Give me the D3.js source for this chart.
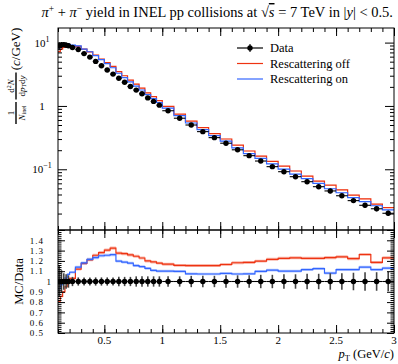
<!DOCTYPE html>
<html><head><meta charset="utf-8">
<script src="https://cdn.jsdelivr.net/npm/d3@7"></script>
<style>body{margin:0;background:#fff}svg{display:block}text{font-family:"Liberation Serif","DejaVu Serif",serif;fill:#000}</style>
</head><body><div id="chart"></div>
<script>
// ---- data ----
const binEdges = [0.10,0.12,0.14,0.16,0.18,0.20,0.25,0.30,0.35,0.40,0.45,0.50,0.55,0.60,0.65,0.70,0.75,0.80,0.85,0.90,0.95,1.0,1.1,1.2,1.3,1.4,1.5,1.6,1.7,1.8,1.9,2.0,2.1,2.2,2.3,2.4,2.5,2.6,2.7,2.8,2.9,3.0];
const dataYield = [8.9,9.2,9.3,9.1,8.9,8.35,7.8,6.7,5.9,5.05,4.3,3.7,3.18,2.74,2.36,2.03,1.78,1.56,1.34,1.18,1.03,0.84,0.64,0.50,0.393,0.316,0.258,0.203,0.164,0.135,0.110,0.0916,0.0764,0.0637,0.0531,0.0455,0.0382,0.0320,0.0270,0.0238,0.0202];
const dataRelErr = [0.15,0.11,0.08,0.07,0.06,0.045,0.04,0.04,0.04,0.04,0.04,0.04,0.04,0.045,0.045,0.045,0.05,0.05,0.05,0.05,0.05,0.05,0.05,0.055,0.055,0.055,0.06,0.06,0.06,0.065,0.065,0.07,0.07,0.075,0.075,0.08,0.08,0.085,0.09,0.09,0.095];
const ratioRescatOff = [0.81,0.855,0.90,0.95,0.985,1.03,1.12,1.175,1.21,1.255,1.28,1.305,1.325,1.275,1.27,1.258,1.245,1.228,1.20,1.19,1.178,1.168,1.157,1.155,1.155,1.155,1.165,1.182,1.185,1.198,1.215,1.225,1.23,1.225,1.225,1.232,1.24,1.222,1.262,1.185,1.23];
const ratioRescatOn = [0.93,0.97,1.0,1.035,1.07,1.09,1.14,1.18,1.215,1.232,1.25,1.255,1.26,1.198,1.188,1.178,1.155,1.145,1.128,1.108,1.10,1.10,1.098,1.075,1.073,1.073,1.078,1.073,1.075,1.098,1.11,1.10,1.10,1.115,1.125,1.082,1.115,1.115,1.14,1.115,1.13];
const mcRelErr = 0.012;
const seriesNames = ["Data","Rescattering off","Rescattering on"];
const seriesColors = ["#000000","#EE3311","#3366FF"];
const xMajorTicks = [0.5,1,1.5,2,2.5,3];
const mainYLabels = [10,1,0.1];
const ratioMajorTicks = [0.5,0.6,0.7,0.8,0.9,1.0,1.1,1.2,1.3,1.4,1.5];
const ratioLabels = ["0.5","0.6","0.7","0.8","0.9","1","1.1","1.2","1.3","1.4"];

// ---- layout ----
const W=398,H=364,L=58,R=394,T=28,MB=230,RB=333;
const svg=d3.select("#chart").append("svg").attr("width",W).attr("height",H);
const x=d3.scaleLinear([0.1,3],[L,R]);
const y=d3.scaleLog([0.011,17],[MB,T]);
const yr=d3.scaleLinear([0.5,1.5],[RB,MB]);

const bins=d3.range(dataYield.length).map(i=>({lo:binEdges[i],hi:binEdges[i+1],v:dataYield[i],e:dataRelErr[i],off:ratioRescatOff[i],on:ratioRescatOn[i]}));
const last=bins[bins.length-1];

const defs=svg.append("defs");
defs.append("clipPath").attr("id","cm").append("rect").attr("x",L).attr("y",T).attr("width",R-L).attr("height",MB-T);
defs.append("clipPath").attr("id","cr").append("rect").attr("x",L).attr("y",MB).attr("width",R-L).attr("height",RB-MB);
const gm=svg.append("g").attr("clip-path","url(#cm)");
const gr=svg.append("g").attr("clip-path","url(#cr)");

function stepPts(fn){const p=bins.map(b=>[x(b.lo),fn(b)]);p.push([x(last.hi),fn(last)]);return p;}
const line=d3.line().curve(d3.curveStepAfter);
function drawMC(g,key,col,ys){
  const band=d3.area().curve(d3.curveStepAfter).x(d=>d[0]).y0(d=>d[1]).y1(d=>d[2]);
  const pts=bins.map(b=>[x(b.lo),ys(b,key,1-mcRelErr),ys(b,key,1+mcRelErr)]);pts.push([x(last.hi),ys(last,key,1-mcRelErr),ys(last,key,1+mcRelErr)]);
  g.append("path").attr("d",band(pts)).attr("fill",col).attr("opacity",0.35);
  g.append("path").attr("d",line(stepPts(b=>ys(b,key,1)))).attr("fill","none").attr("stroke",col).attr("stroke-width",1.2);
}
const ysMain=(b,k,f)=>y(b.v*b[k]*f);
const ysRatio=(b,k,f)=>yr(b[k]*f);
drawMC(gm,"off",seriesColors[1],ysMain);
drawMC(gm,"on",seriesColors[2],ysMain);
drawMC(gr,"off",seriesColors[1],ysRatio);
drawMC(gr,"on",seriesColors[2],ysRatio);

const cx=b=>x((b.lo+b.hi)/2);
gm.selectAll(".xe").data(bins).join("line").attr("x1",b=>x(b.lo)).attr("x2",b=>x(b.hi)).attr("y1",b=>y(b.v)).attr("y2",b=>y(b.v)).attr("stroke","#000").attr("stroke-width",1.1);
gm.selectAll(".ye").data(bins).join("line").attr("x1",cx).attr("x2",cx).attr("y1",b=>y(b.v*(1-b.e))).attr("y2",b=>y(b.v*(1+b.e))).attr("stroke","#000").attr("stroke-width",1.1);
gm.selectAll(".pt").data(bins).join("circle").attr("cx",cx).attr("cy",b=>y(b.v)).attr("r",2.7).attr("fill","#000");
gr.selectAll(".ye").data(bins).join("line").attr("x1",cx).attr("x2",cx).attr("y1",b=>yr(1-b.e)).attr("y2",b=>yr(1+b.e)).attr("stroke","#444").attr("stroke-width",1.6);
gr.selectAll(".xe").data(bins).join("line").attr("x1",b=>x(b.lo)).attr("x2",b=>x(b.hi)).attr("y1",yr(1)).attr("y2",yr(1)).attr("stroke","#000").attr("stroke-width",1.1);
gr.selectAll(".pt").data(bins).join("circle").attr("cx",cx).attr("cy",yr(1)).attr("r",2.7).attr("fill","#000");

svg.append("rect").attr("x",L).attr("y",T).attr("width",R-L).attr("height",MB-T).attr("fill","none").attr("stroke","#000").attr("stroke-width",1);
svg.append("rect").attr("x",L).attr("y",MB).attr("width",R-L).attr("height",RB-MB).attr("fill","none").attr("stroke","#000").attr("stroke-width",1);

const xMinor=d3.range(1,31).map(i=>i/10);
function ax(gen,vals,size,tx,ty){
  const a=gen.tickValues(vals).tickSize(size).tickFormat("");
  const g=svg.append("g").attr("transform",`translate(${tx},${ty})`).call(a);
  g.select(".domain").remove();g.selectAll("line").attr("stroke","#000");g.selectAll("text").remove();
  return g;
}
[[T,d3.axisTop],[MB,d3.axisBottom],[MB,d3.axisTop],[RB,d3.axisBottom]].forEach(([yy,gen])=>{
  ax(gen(x),xMinor,-4,0,yy);ax(gen(x),xMajorTicks,-8,0,yy);
});
const yMinor=[];[0.01,0.1,1,10].forEach(d=>{for(let k=2;k<=9;k++){const v=d*k;if(v>=0.011&&v<=17)yMinor.push(v);}});
[[L,d3.axisLeft],[R,d3.axisRight]].forEach(([xx,gen])=>{ax(gen(y),yMinor,-4,xx,0);ax(gen(y),mainYLabels,-9,xx,0);});
const rMinor=d3.range(25,76).map(i=>i/50);
[[L,d3.axisLeft],[R,d3.axisRight]].forEach(([xx,gen])=>{ax(gen(yr),rMinor,-3.5,xx,0);ax(gen(yr),ratioMajorTicks,-7,xx,0);});

svg.selectAll(".xl").data(xMajorTicks).join("text").attr("x",d=>x(d)).attr("y",344).attr("text-anchor","middle").attr("font-size",11).text(d=>d3.format("~g")(d));
const yl=svg.selectAll(".yl").data(mainYLabels).join("text").attr("x",42).attr("y",d=>y(d)+4).attr("text-anchor","middle").attr("font-size",11);
yl.each(function(d){const t=d3.select(this);if(d===1){t.text("1");}else{t.append("tspan").text("10");t.append("tspan").attr("dy",-5).attr("font-size",8).text(d===10?"1":"\u22121");}});
svg.selectAll(".rl").data(ratioLabels).join("text").attr("x",d=>d==="1"?52:44).attr("y",d=>yr(+d)+3.2).attr("text-anchor","end").attr("font-size",9).attr("letter-spacing",1).text(d=>d);

// title
const tt=svg.append("text").attr("x",393).attr("y",17).attr("text-anchor","end").attr("font-size",14.5);
tt.append("tspan").attr("font-style","italic").text("\u03c0");
tt.append("tspan").attr("dy",-5).attr("font-size",9.5).text("+");
tt.append("tspan").attr("dy",5).text(" + ");
tt.append("tspan").attr("font-style","italic").text("\u03c0");
tt.append("tspan").attr("dy",-5).attr("font-size",9.5).text("\u2212");
tt.append("tspan").attr("dy",5).text(" yield in INEL pp collisions at \u221a");
tt.append("tspan").attr("font-style","italic").attr("text-decoration","overline").text("s");
tt.append("tspan").text(" = 7 TeV in |");
tt.append("tspan").attr("font-style","italic").text("y");
tt.append("tspan").text("| < 0.5.");

const xt=svg.append("text").attr("x",394).attr("y",358).attr("text-anchor","end").attr("font-size",12.5);
xt.append("tspan").attr("font-style","italic").text("p");
xt.append("tspan").attr("dy",3).attr("font-size",8.5).text("T");
xt.append("tspan").attr("dy",-3).text(" (GeV/");
xt.append("tspan").attr("font-style","italic").text("c");
xt.append("tspan").text(")");

svg.append("text").attr("transform",`translate(23,${(MB+RB)/2}) rotate(-90)`).attr("text-anchor","middle").attr("font-size",12.5).text("MC/Data");

const gy=svg.append("g").attr("transform","translate(16,124) rotate(-90)");
function frac(cxl,num,den,w){
  const n=gy.append("text").attr("x",cxl).attr("y",-2.5).attr("text-anchor","middle").attr("font-size",9);num(n);
  const d=gy.append("text").attr("x",cxl).attr("y",8.5).attr("text-anchor","middle").attr("font-size",9);den(d);
  gy.append("line").attr("x1",cxl-w/2).attr("x2",cxl+w/2).attr("y1",0).attr("y2",0).attr("stroke","#000").attr("stroke-width",1.4);
}
frac(11,t=>t.text("1"),t=>{t.append("tspan").attr("font-style","italic").text("N");t.append("tspan").attr("dy",1.5).attr("font-size",6).text("inel");},22);
frac(38,t=>{t.append("tspan").text("d");t.append("tspan").attr("dy",-3).attr("font-size",6).text("2");t.append("tspan").attr("dy",3).attr("font-style","italic").text("N");},
  t=>{t.append("tspan").text("d");t.append("tspan").attr("font-style","italic").text("p");t.append("tspan").attr("dy",1.5).attr("font-size",6).text("T");t.append("tspan").attr("dy",-1.5).text("d");t.append("tspan").attr("font-style","italic").text("y");},27);
const cu=gy.append("text").attr("x",75).attr("y",4).attr("text-anchor","middle").attr("font-size",13);
cu.append("tspan").text("(");cu.append("tspan").attr("font-style","italic").text("c");cu.append("tspan").text("/GeV)");

const legY=[48,63.5,79];
const lg=svg.append("g");
seriesNames.forEach((n,i)=>{
  lg.append("line").attr("x1",237).attr("x2",263).attr("y1",legY[i]).attr("y2",legY[i]).attr("stroke",seriesColors[i]).attr("stroke-width",1.2);
  if(i===0){lg.append("line").attr("x1",250).attr("x2",250).attr("y1",legY[i]-4).attr("y2",legY[i]+4).attr("stroke","#000").attr("stroke-width",1.1);
    lg.append("circle").attr("cx",250).attr("cy",legY[i]).attr("r",2.7).attr("fill","#000");}
  lg.append("text").attr("x",270).attr("y",legY[i]+4).attr("font-size",12.5).text(n);
});
</script></body></html>
